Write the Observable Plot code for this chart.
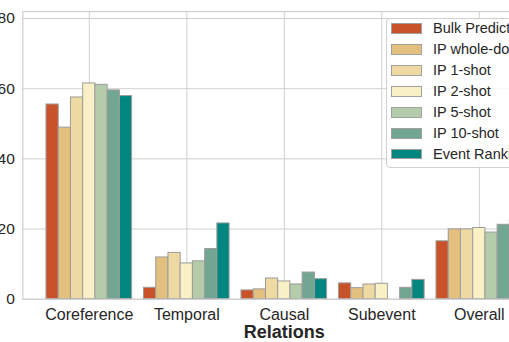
<!DOCTYPE html>
<html><head><meta charset="utf-8">
<script src="https://cdn.jsdelivr.net/npm/d3@7"></script>
<script src="https://cdn.jsdelivr.net/npm/@observablehq/plot@0.6"></script>
<style>
html,body{margin:0;padding:0;overflow:hidden;background:#fff;}
#wrap{position:relative;width:509px;height:342px;overflow:hidden;}
#legend{position:absolute;left:385.5px;top:17.5px;width:200px;height:150px;border:1px solid #d0d0d0;border-radius:4px;background:rgba(255,255,255,0.85);box-sizing:border-box;font-family:"Liberation Sans",Arial,sans-serif;font-size:14.5px;color:#262626;}
.row{position:absolute;left:4.5px;height:10.7px;display:flex;align-items:center;white-space:nowrap;}
.sw{width:30.5px;height:10.7px;box-sizing:border-box;border:1px solid #a0a0a0;margin-right:11.5px;flex:none;}
</style></head>
<body>
<div id="wrap"></div>
<script>
const categories = ["Coreference", "Temporal", "Causal", "Subevent", "Overall"];
const seriesNames = ["Bulk Prediction", "IP whole-doc", "IP 1-shot", "IP 2-shot", "IP 5-shot", "IP 10-shot", "Event Ranking"];
const seriesColors = ["#c9522b", "#e4c07f", "#efd9a3", "#f9f1c5", "#b5ccab", "#72a690", "#00867f"];
const bulkPrediction = [55.5, 3.25, 2.5, 4.5, 16.5];
const ipWholeDoc = [48.9, 11.9, 2.8, 3.15, 19.9];
const ip1Shot = [57.5, 13.2, 5.9, 4.2, 19.9];
const ip2Shot = [61.5, 10.2, 5.05, 4.4, 20.3];
const ip5Shot = [61.1, 10.8, 4.2, null, 19.0];
const ip10Shot = [59.5, 14.3, 7.6, 3.25, 21.2];
const eventRanking = [57.9, 21.6, 5.7, 5.5, 22.7];
const yTicks = [0, 20, 40, 60, 80];

const seriesValues = [bulkPrediction, ipWholeDoc, ip1Shot, ip2Shot, ip5Shot, ip10Shot, eventRanking];
const data = [];
seriesValues.forEach((vals, si) => vals.forEach((v, ci) => {
  if (v != null) data.push({category: categories[ci], ci, series: seriesNames[si], si, value: v});
}));

const groupFrac = 0.878;
const barW = groupFrac / seriesNames.length;
const catIdx = categories.map((_, i) => i);
const pad = 0.682;

const chart = Plot.plot({
  width: 509,
  height: 342,
  marginLeft: 22.3,
  marginRight: -36.3,
  marginTop: 11,
  marginBottom: 43.3,
  style: {fontFamily: "'Liberation Sans', Arial, sans-serif", color: "#262626", background: "#fff", overflow: "hidden"},
  x: {type: "linear", domain: [-pad, categories.length - 1 + pad]},
  y: {domain: [0, 82]},
  color: {domain: seriesNames, range: seriesColors},
  marks: [
    Plot.gridY(yTicks, {stroke: "#d0d0d0", strokeOpacity: 1, strokeWidth: 1}),
    Plot.gridX(catIdx, {stroke: "#d0d0d0", strokeOpacity: 1, strokeWidth: 1}),
    Plot.rectY(data, {
      x1: d => d.ci - groupFrac / 2 + d.si * barW,
      x2: d => d.ci - groupFrac / 2 + (d.si + 1) * barW,
      y: "value",
      fill: "series",
      stroke: "#9c9c9c",
      strokeWidth: 1
    }),
    Plot.frame({stroke: "#d0d0d0", strokeWidth: 1.2}),
    Plot.axisY(yTicks, {tickSize: 0, tickPadding: 8, fontSize: 15.5, label: null, fill: "#262626"}),
    Plot.axisX(catIdx, {tickSize: 0, tickPadding: 9, fontSize: 16, tickFormat: i => categories[i], label: null, fill: "#262626"}),
    Plot.text(["Relations"], {frameAnchor: "bottom", lineAnchor: "middle", dy: 33.5, fontSize: 18, fontWeight: "bold", fill: "#262626"})
  ]
});
const wrap = document.getElementById("wrap");
wrap.appendChild(chart);

const legend = document.createElement("div");
legend.id = "legend";
seriesNames.forEach((name, i) => {
  const row = document.createElement("div");
  row.className = "row";
  row.style.top = (4.6 + i * 20.95) + "px";
  const sw = document.createElement("div");
  sw.className = "sw";
  sw.style.background = seriesColors[i];
  const t = document.createElement("span");
  t.textContent = name;
  row.appendChild(sw);
  row.appendChild(t);
  legend.appendChild(row);
});
wrap.appendChild(legend);
</script>
</body></html>
